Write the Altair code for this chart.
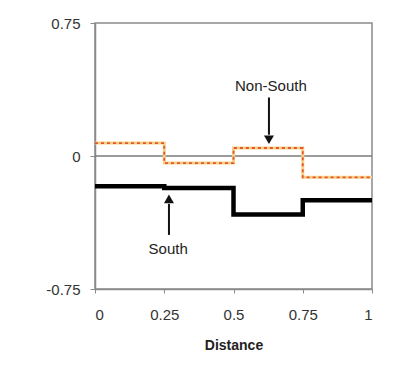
import altair as alt
import pandas as pd

dist = [0, 0.25, 0.5, 0.75, 1.0]
south = [-0.17, -0.18, -0.33, -0.25, -0.25]
nonsouth = [0.073, -0.04, 0.045, -0.12, -0.12]

df = pd.DataFrame({"d": dist + dist, "v": south + nonsouth,
                   "g": ["South"] * 5 + ["Non-South"] * 5})

xs = alt.Scale(domain=[0, 1], nice=False, zero=False)
ys = alt.Scale(domain=[-0.75, 0.75], nice=False)

xax = alt.Axis(values=[0, 0.25, 0.5, 0.75, 1], labelExpr="'' + datum.value",
               title="Distance", grid=False, tickSize=4, labelPadding=14, titlePadding=16)
yax = alt.Axis(values=[-0.75, 0, 0.75], labelExpr="'' + datum.value", title=None,
               grid=False, tickSize=5, labelPadding=10)

base = alt.Chart(df)

zero = alt.Chart(pd.DataFrame({"y": [0]})).mark_rule(color="#7a7a7a", strokeWidth=1.5).encode(
    y=alt.Y("y:Q", scale=ys, axis=yax))

s_line = base.transform_filter("datum.g == 'South'").mark_line(
    interpolate="step-after", color="black", strokeWidth=4.5).encode(
    x=alt.X("d:Q", scale=xs, axis=xax), y=alt.Y("v:Q", scale=ys, axis=yax))

ns_base = base.transform_filter("datum.g == 'Non-South'").mark_line(
    interpolate="step-after", color="#f7cf86", strokeWidth=3).encode(
    x=alt.X("d:Q", scale=xs), y=alt.Y("v:Q", scale=ys))
ns_dash = base.transform_filter("datum.g == 'Non-South'").mark_line(
    interpolate="step-after", color="#e4572e", strokeWidth=1.8, strokeDash=[3, 3]).encode(
    x=alt.X("d:Q", scale=xs), y=alt.Y("v:Q", scale=ys))

ann = pd.DataFrame({"x": [0.635, 0.264], "y": [0.395, -0.525], "t": ["Non-South", "South"]})
texts = alt.Chart(ann).mark_text(font="Liberation Sans", fontSize=15, color="#222").encode(
    x=alt.X("x:Q", scale=xs), y=alt.Y("y:Q", scale=ys), text="t:N")

arr = pd.DataFrame({"x": [0.628, 0.267], "y1": [0.33, -0.445], "y2": [0.12, -0.27]})
shafts = alt.Chart(arr).mark_rule(color="#111", strokeWidth=2).encode(
    x=alt.X("x:Q", scale=xs), y=alt.Y("y1:Q", scale=ys), y2="y2:Q")

heads_df = pd.DataFrame({"x": [0.628, 0.267], "y": [0.10, -0.25], "a": [180, 0]})
heads = alt.Chart(heads_df).mark_point(shape="triangle", filled=True, size=100, color="#111", opacity=1).encode(
    x=alt.X("x:Q", scale=xs), y=alt.Y("y:Q", scale=ys), angle=alt.Angle("a:Q", scale=None))

chart = alt.layer(zero, ns_base, ns_dash, s_line, shafts, heads, texts).properties(
    width=277, height=266,
    autosize=alt.AutoSizeParams(type="none"),
    padding={"left": 87, "top": 15, "right": 20, "bottom": 68},
).configure_view(stroke="#8a8a8a", strokeWidth=1.5).configure_axis(
    domainColor="#8a8a8a", domainWidth=1.5, tickColor="#8a8a8a",
    labelFont="Liberation Sans", labelFontSize=15, labelColor="#333",
    titleFont="Liberation Sans", titleFontSize=14, titleFontWeight="bold", titleColor="#222",
)

chart.save("out.html", embed_options={"renderer": "svg", "actions": False})
